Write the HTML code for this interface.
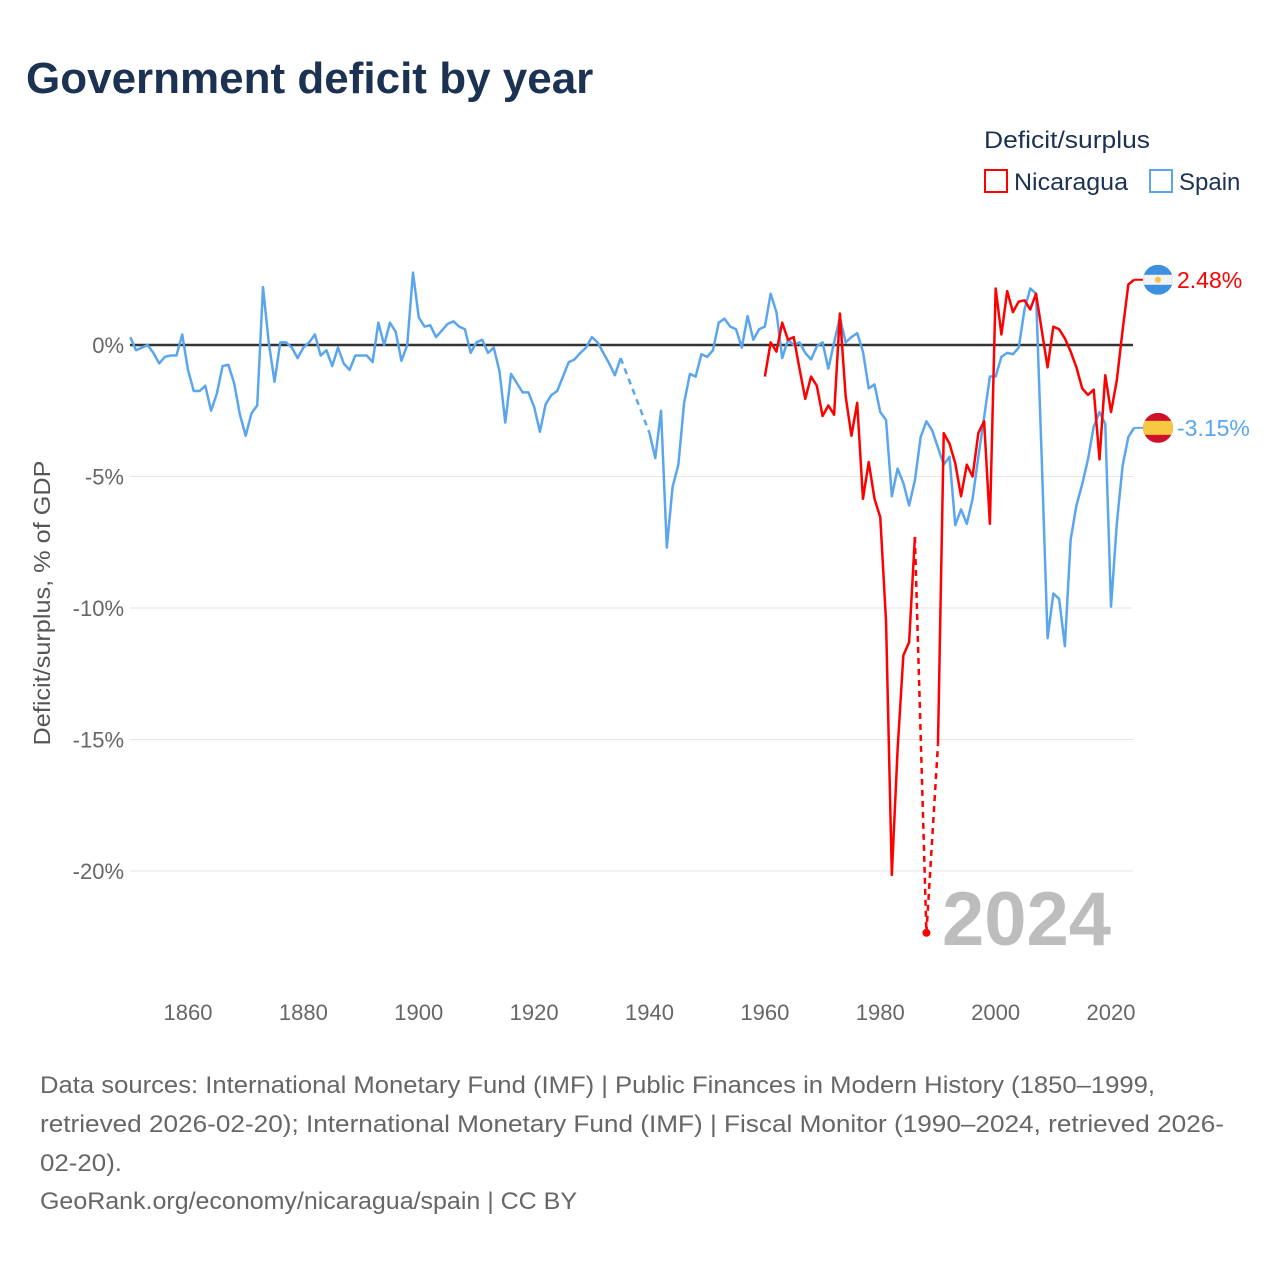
<!DOCTYPE html>
<html><head><meta charset="utf-8"><style>
body{margin:0;background:#fff;font-family:"Liberation Sans",sans-serif;}
#wrap{position:relative;width:1280px;height:1280px;overflow:hidden;background:#fff}
</style></head><body>
<div id="wrap">
<svg id="chart" width="1280" height="1280" style="position:absolute;left:0;top:0">
<text x="26" y="93" font-size="44" font-weight="bold" fill="#1b3253" style="font-family:'Liberation Sans',sans-serif">Government deficit by year</text>
<text x="984" y="148" font-size="24" fill="#1b3253" textLength="166" lengthAdjust="spacingAndGlyphs">Deficit/surplus</text>
<g>
<rect x="985" y="170" width="22" height="22" fill="none" stroke="#f00" stroke-width="2"/>
<text x="1014" y="190" font-size="24" fill="#1b3253" textLength="114" lengthAdjust="spacingAndGlyphs">Nicaragua</text></g>
<g>
<rect x="1150" y="170" width="22" height="22" fill="none" stroke="#5aa6ee" stroke-width="2"/>
<text x="1179" y="190" font-size="24" fill="#1b3253">Spain</text></g>
<text transform="translate(50,603) rotate(-90)" text-anchor="middle" font-size="23" fill="#555" textLength="285" lengthAdjust="spacingAndGlyphs">Deficit/surplus, % of GDP</text>
<text x="942" y="945" font-size="76" font-weight="bold" fill="#bdbdbd">2024</text>
<g id="grid"></g><g id="series"></g><g id="ends"></g>
<g font-size="24" fill="#666">
<text x="40" y="1093" textLength="1115" lengthAdjust="spacingAndGlyphs">Data sources: International Monetary Fund (IMF) | Public Finances in Modern History (1850–1999,</text>
<text x="40" y="1132" textLength="1184" lengthAdjust="spacingAndGlyphs">retrieved 2026-02-20); International Monetary Fund (IMF) | Fiscal Monitor (1990–2024, retrieved 2026-</text>
<text x="40" y="1171" textLength="82" lengthAdjust="spacingAndGlyphs">02-20).</text>
<text x="40" y="1209" textLength="537" lengthAdjust="spacingAndGlyphs">GeoRank.org/economy/nicaragua/spain | CC BY</text>
</g>
</svg>
</div>
<script>
const xTicks=[1860,1880,1900,1920,1940,1960,1980,2000,2020];
const yTicks=[0,-5,-10,-15,-20];
const spainStart=1850;
const spainValues=[0.3,-0.2,-0.1,0,-0.3,-0.7,-0.45,-0.4,-0.4,0.4,
-0.95,-1.75,-1.75,-1.55,-2.5,-1.85,-0.8,-0.75,-1.45,-2.65,
-3.45,-2.6,-2.3,2.2,0.1,-1.4,0.1,0.1,-0.1,-0.5,
-0.1,0.1,0.4,-0.4,-0.2,-0.8,-0.1,-0.7,-0.95,-0.4,
-0.4,-0.4,-0.65,0.85,0,0.85,0.5,-0.6,0,2.75,
1.05,0.7,0.75,0.3,0.55,0.8,0.9,0.7,0.6,-0.3,
0.1,0.2,-0.3,-0.1,-1.0,-2.95,-1.1,-1.45,-1.8,-1.8,
-2.35,-3.3,-2.25,-1.9,-1.75,-1.2,-0.65,-0.55,-0.3,-0.1,
0.3,0.1,-0.3,-0.7,-1.15,-0.5,null,null,null,null,
-3.35,-4.3,-2.5,-7.7,-5.4,-4.55,-2.2,-1.1,-1.2,-0.35,
-0.45,-0.2,0.85,1.0,0.7,0.6,-0.1,1.1,0.2,0.6,
0.7,1.95,1.25,-0.5,0.2,0,0.1,-0.3,-0.55,-0.05,
0.1,-0.9,0.1,1.05,0.1,0.3,0.45,-0.25,-1.65,-1.5,
-2.55,-2.85,-5.75,-4.7,-5.25,-6.1,-5.15,-3.5,-2.9,-3.25,
-3.9,-4.55,-4.25,-6.85,-6.25,-6.8,-5.85,-4.25,-2.75,-1.2,
-1.2,-0.45,-0.3,-0.35,-0.1,1.35,2.15,1.95,-4.4,-11.15,
-9.45,-9.65,-11.45,-7.4,-6.1,-5.3,-4.35,-3.1,-2.55,-3.0,
-9.95,-6.8,-4.6,-3.5,-3.15];
const nicStart=1960;
const nicValues=[-1.2,0.1,-0.25,0.85,0.2,0.3,-0.9,-2.05,-1.2,-1.55,
-2.7,-2.3,-2.65,1.2,-1.95,-3.45,-2.2,-5.85,-4.45,-5.85,
-6.55,-10.5,-20.15,-15.4,-11.8,-11.3,-7.3,null,-22.35,null,
-15.2,-3.35,-3.75,-4.5,-5.75,-4.55,-5.0,-3.35,-2.9,-6.8,
2.15,0.4,2.05,1.25,1.65,1.7,1.35,1.95,0.55,-0.85,
0.7,0.6,0.25,-0.25,-0.85,-1.65,-1.9,-1.7,-4.35,-1.15,
-2.55,-1.35,0.55,2.3,2.48];
const endLabels=["2.48%","-3.15%"];

const NS="http://www.w3.org/2000/svg";
const X0=130.3,PX=5.769,Y0=345,PY=26.3,XR=1133;
function xs(yr){return X0+(yr-1850)*PX;}
function ys(v){return Y0-v*PY;}
function mk(tag,attrs,parent){const e=document.createElementNS(NS,tag);for(const k in attrs)e.setAttribute(k,attrs[k]);parent.appendChild(e);return e;}
const grid=document.getElementById('grid');
yTicks.forEach(v=>{
  const l=mk('line',{x1:130,x2:XR,y1:ys(v),y2:ys(v),stroke:v===0?'#333':'#e6e6e6','stroke-width':v===0?2.5:1},grid);
  
  
  const t=mk('text',{x:124,y:ys(v)+8,'text-anchor':'end','font-size':22,fill:'#666'},grid);
  t.textContent=v+'%';
  
  
});
xTicks.forEach(yr=>{
  const t=mk('text',{x:xs(yr),y:1020,'text-anchor':'middle','font-size':22,fill:'#666'},grid);
  t.textContent=yr;
  
  
});
const sg=document.getElementById('series');
function draw(vals,start,color,name){
  const g=mk('g',{},sg);
  
  
  let seg=[],prev=null,gap=false;
  const flush=()=>{ if(seg.length>1){mk('polyline',{points:seg.map(p=>p.join(',')).join(' '),fill:'none',stroke:color,'stroke-width':2.5,'stroke-linejoin':'round'},g);} seg=[]; };
  vals.forEach((v,i)=>{
    const yr=start+i;
    if(v===null){ flush(); gap=true; return; }
    const p=[xs(yr),ys(v)];
    if(gap&&prev){ mk('line',{x1:prev[0],y1:prev[1],x2:p[0],y2:p[1],stroke:color,'stroke-width':2.5,'stroke-dasharray':'6,5'},g);
      const nextNull=(i+1<vals.length&&vals[i+1]===null);
      if(nextNull) mk('circle',{cx:p[0],cy:p[1],r:4,fill:color},g);
    }
    gap=false; seg.push(p); prev=p;
  });
  flush();
}
draw(spainValues,spainStart,'#5aa6ee','spain');
draw(nicValues,nicStart,'#f00','nicaragua');
const ends=document.getElementById('ends');
function endMark(v,color,label,flag){
  const y=ys(v);
  mk('line',{x1:xs(2024),y1:y,x2:1145,y2:y,stroke:color,'stroke-width':2},ends);
  const g=mk('g',{},ends);
  
  
  const cid='c'+flag;
  const cp=mk('clipPath',{id:cid},g);mk('circle',{cx:1158,cy:y,r:15},cp);
  const inner=mk('g',{'clip-path':'url(#'+cid+')'},g);
  if(flag==='nicaragua'){
    mk('rect',{x:1143,y:y-15,width:30,height:30,fill:'#3d8fe0'},inner);
    mk('rect',{x:1143,y:y-5,width:30,height:10,fill:'#f2f2f2'},inner);
    mk('circle',{cx:1158,cy:y,r:3,fill:'#f5c342'},inner);
  } else {
    mk('rect',{x:1143,y:y-15,width:30,height:30,fill:'#d0102a'},inner);
    mk('rect',{x:1143,y:y-7,width:30,height:14,fill:'#f7c842'},inner);
  }
  const t=mk('text',{x:1177,y:y+8,'font-size':23,fill:color},ends);
  t.textContent=label;
  
  
}
endMark(nicValues[nicValues.length-1],'#f00',endLabels[0],'nicaragua');
endMark(spainValues[spainValues.length-1],'#5aa6ee',endLabels[1],'spain');
</script>
</body></html>
